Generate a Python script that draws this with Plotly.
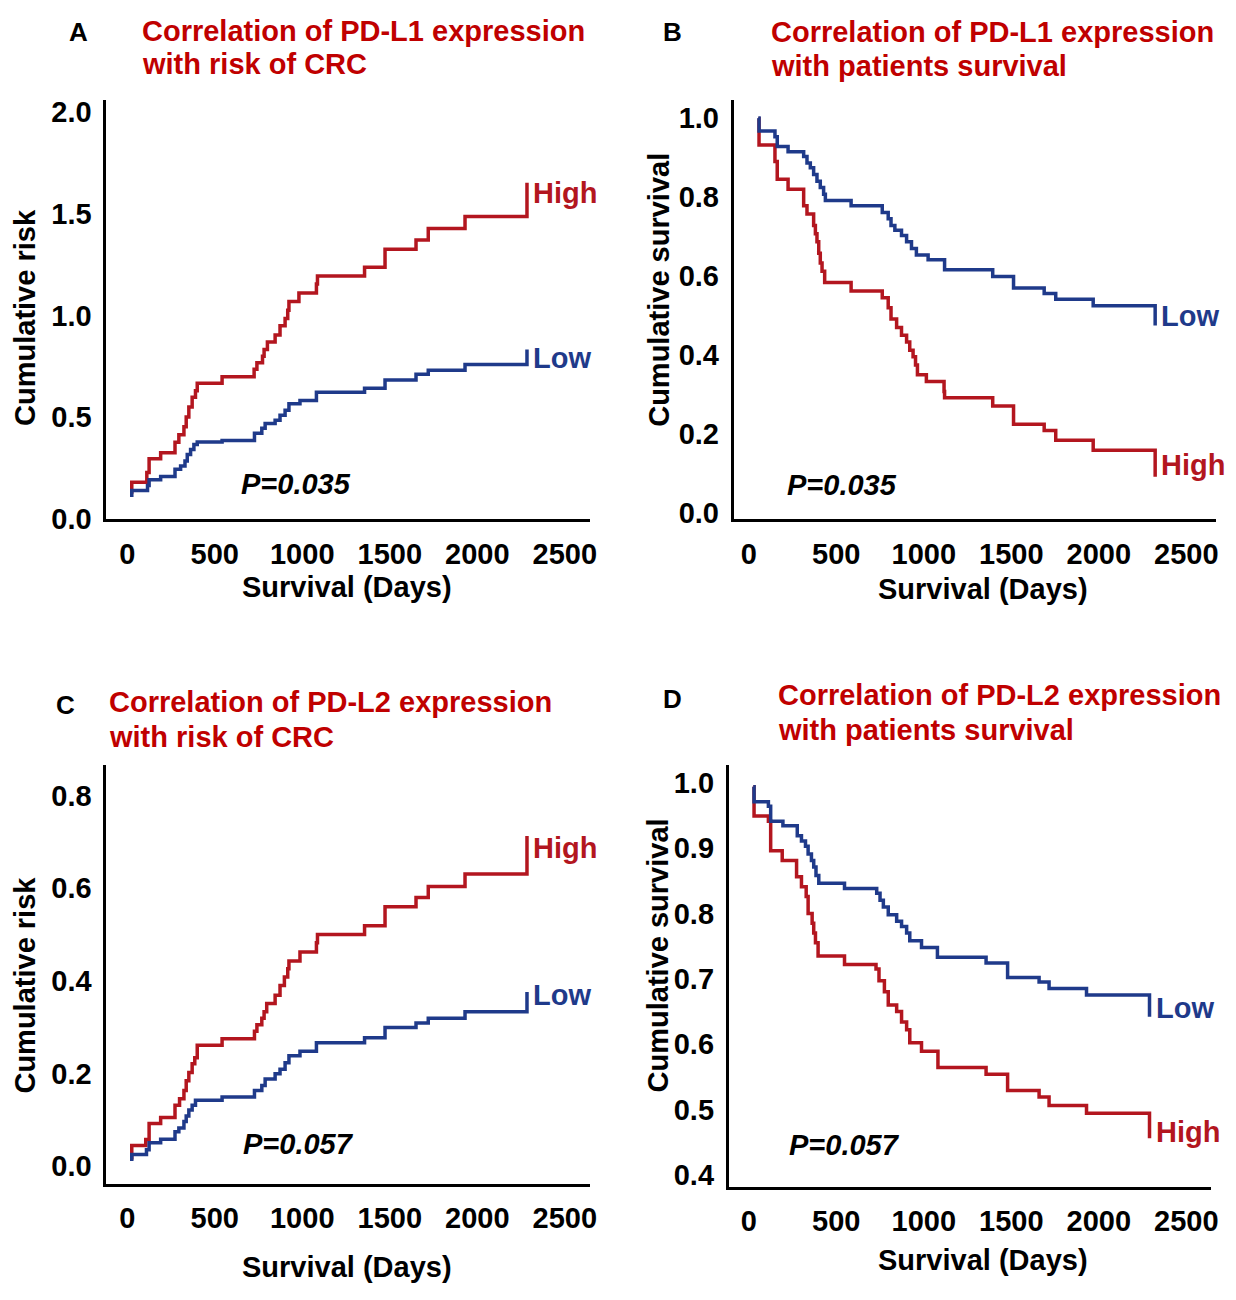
import plotly.graph_objects as go

W, H = 1236, 1300

# ---------------- data ----------------
tick_labels_x = [0, 500, 1000, 1500, 2000, 2500]

# Panel A: PD-L1, cumulative risk
A_high_days = [26, 26, 112, 125, 191, 273, 295, 324, 337, 352, 371, 390, 400, 542, 725, 741, 773, 782, 801, 845,
               873, 902, 917, 924, 981, 1081, 1087, 1356, 1473, 1650, 1720, 1930, 2284]
A_high_vals = [0.124, 0.180, 0.229, 0.296, 0.325, 0.377, 0.414, 0.454, 0.502, 0.551, 0.599, 0.631, 0.667, 0.699,
               0.736, 0.768, 0.800, 0.833, 0.870, 0.905, 0.950, 0.986, 1.026, 1.069, 1.111, 1.155, 1.195, 1.238,
               1.327, 1.372, 1.428, 1.488, 1.488]
A_high_censor = 1.654
A_low_days = [26, 26, 116, 125, 191, 273, 305, 330, 343, 362, 381, 400, 542, 727, 769, 788, 845, 873, 902, 924,
              987, 1081, 1356, 1473, 1650, 1720, 1930, 2284]
A_low_vals = [0.108, 0.140, 0.164, 0.193, 0.209, 0.245, 0.261, 0.285, 0.317, 0.341, 0.366, 0.378, 0.386, 0.422,
              0.446, 0.470, 0.486, 0.510, 0.535, 0.567, 0.583, 0.623, 0.643, 0.683, 0.712, 0.731, 0.760, 0.760]
A_low_censor = 0.833

# Panel B: PD-L1, cumulative survival
B_high_days = [55, 59, 150, 163, 225, 314, 333, 371, 381, 390, 400, 409, 419, 434, 585, 763, 797, 813, 845, 873,
               902, 920, 939, 953, 964, 1015, 1116, 1119, 1394, 1513, 1688, 1754, 1968, 2322]
B_high_vals = [0.998, 0.932, 0.890, 0.845, 0.820, 0.778, 0.757, 0.728, 0.707, 0.687, 0.658, 0.633, 0.612, 0.584,
               0.562, 0.545, 0.520, 0.491, 0.470, 0.450, 0.433, 0.412, 0.396, 0.375, 0.350, 0.333, 0.308, 0.292,
               0.271, 0.225, 0.209, 0.184, 0.159, 0.159]
B_high_censor = 0.092
B_low_days = [55, 59, 150, 163, 225, 314, 333, 352, 371, 390, 409, 428, 438, 585, 763, 797, 813, 835, 873, 902,
              930, 958, 1025, 1119, 1394, 1513, 1688, 1754, 1968, 2322]
B_low_vals = [1.000, 0.967, 0.953, 0.928, 0.915, 0.903, 0.886, 0.874, 0.857, 0.840, 0.824, 0.807, 0.791, 0.778,
              0.761, 0.745, 0.728, 0.716, 0.703, 0.687, 0.670, 0.653, 0.641, 0.616, 0.599, 0.570, 0.556, 0.541,
              0.525, 0.525]
B_low_censor = 0.475

# Panel C: PD-L2, cumulative risk
C_high_days = [26, 26, 106, 125, 191, 273, 299, 324, 337, 352, 371, 386, 400, 542, 727, 741, 769, 782, 797, 845,
               873, 898, 917, 924, 987, 1081, 1087, 1356, 1473, 1650, 1720, 1930, 2284]
C_high_vals = [0.014, 0.044, 0.057, 0.092, 0.105, 0.131, 0.145, 0.163, 0.184, 0.202, 0.221, 0.234, 0.261, 0.275,
               0.291, 0.305, 0.319, 0.333, 0.351, 0.369, 0.390, 0.408, 0.426, 0.443, 0.462, 0.482, 0.500, 0.519,
               0.560, 0.580, 0.604, 0.631, 0.631]
C_high_censor = 0.713
C_low_days = [26, 26, 110, 125, 191, 273, 295, 324, 337, 352, 371, 390, 542, 727, 769, 788, 845, 873, 902, 924,
              987, 1081, 1356, 1473, 1650, 1720, 1930, 2284]
C_low_vals = [0.011, 0.025, 0.035, 0.050, 0.058, 0.074, 0.082, 0.096, 0.108, 0.121, 0.131, 0.142, 0.149, 0.163,
              0.174, 0.188, 0.199, 0.209, 0.223, 0.238, 0.248, 0.266, 0.277, 0.299, 0.309, 0.319, 0.333, 0.333]
C_low_censor = 0.376

# Panel D: PD-L2, cumulative survival
D_high_days = [26, 30, 112, 125, 191, 273, 301, 328, 339, 362, 371, 381, 396, 547, 727, 744, 775, 797, 845, 873,
               902, 920, 987, 1081, 1356, 1479, 1659, 1716, 1930, 2290]
D_high_vals = [0.994, 0.949, 0.941, 0.896, 0.881, 0.856, 0.841, 0.826, 0.800, 0.785, 0.770, 0.755, 0.735, 0.722,
               0.715, 0.697, 0.680, 0.660, 0.650, 0.634, 0.622, 0.602, 0.589, 0.564, 0.554, 0.529, 0.519, 0.506,
               0.494, 0.494]
D_high_censor = 0.456
D_low_days = [26, 30, 112, 125, 195, 277, 301, 324, 339, 358, 371, 384, 400, 547, 731, 750, 769, 797, 845, 873,
              902, 920, 987, 1078, 1356, 1479, 1659, 1716, 1930, 2290]
D_low_vals = [0.994, 0.971, 0.964, 0.941, 0.934, 0.919, 0.911, 0.903, 0.891, 0.881, 0.871, 0.858, 0.846, 0.838,
              0.831, 0.820, 0.810, 0.798, 0.788, 0.780, 0.770, 0.758, 0.748, 0.733, 0.724, 0.702, 0.695, 0.685,
              0.675, 0.675]
D_low_censor = 0.642

p_values = ["P=0.035", "P=0.035", "P=0.057", "P=0.057"]
panel_letters = ["A", "B", "C", "D"]
panel_titles = [
    ["Correlation of PD-L1 expression", "with risk of CRC"],
    ["Correlation of PD-L1 expression", "with patients survival"],
    ["Correlation of PD-L2 expression", "with risk of CRC"],
    ["Correlation of PD-L2 expression", "with patients survival"],
]
y_titles = ["Cumulative risk", "Cumulative survival", "Cumulative risk", "Cumulative survival"]
x_title = "Survival (Days)"

# ---------------- styling ----------------
RED = "#B3161F"
BLUE = "#1F3A8A"
TITLE_RED = "#C00000"
FONT = "Liberation Sans, Arial, sans-serif"
FS = 29


def px2x(p):
    return p / W


def px2y(p):
    return 1 - p / H


# panel geometry in window pixels: (left, right, top, bottom)
boxes = [(107, 593, 98, 523), (738, 1223, 97, 523), (107, 593, 773, 1198), (733, 1218, 773, 1201)]
x_ranges = [[-119, 2642], [-85, 2670], [-119, 2642], [-114, 2642]]
y_ranges = [[0.0, 2.058], [-0.015, 1.047], [-0.038, 0.866], [0.382, 1.027]]
y_ticks = [[0.0, 0.5, 1.0, 1.5, 2.0], [0.0, 0.2, 0.4, 0.6, 0.8, 1.0], [0.0, 0.2, 0.4, 0.6, 0.8],
           [0.4, 0.5, 0.6, 0.7, 0.8, 0.9, 1.0]]

series = [
    (A_high_days, A_high_vals, A_high_censor, A_low_days, A_low_vals, A_low_censor),
    (B_high_days, B_high_vals, B_high_censor, B_low_days, B_low_vals, B_low_censor),
    (C_high_days, C_high_vals, C_high_censor, C_low_days, C_low_vals, C_low_censor),
    (D_high_days, D_high_vals, D_high_censor, D_low_days, D_low_vals, D_low_censor),
]

# label positions (data coords) for High / Low and p-values
high_label_y = [1.604, 0.122, 0.687, 0.465]
low_label_y = [0.792, 0.499, 0.370, 0.656]
p_pos = [(966, 0.174), (534, 0.072), (977, 0.047), (545, 0.446)]

# letter / title / axis-title pixel positions (window coords)
letter_pos = [(79, 28), (676, 28), (66, 712), (676, 706)]
title_pos = [(141, 27, 61), (773, 28, 63), (108, 709, 744), (780, 702, 737)]
ytitle_pos = [(25, 318), (662, 290), (25, 996), (662, 966)]
xtitle_pos = [(349, 592), (989, 594), (349, 1283), (989, 1276)]

fig = go.Figure()
layout = {}
annotations = []

for i in range(4):
    n = "" if i == 0 else str(i + 1)
    xa, ya = "x" + n, "y" + n
    hd, hv, hc, ld, lv, lc = series[i]
    fig.add_trace(go.Scatter(x=hd + [hd[-1]], y=hv + [hc], mode="lines", line=dict(color=RED, width=3.5, shape="hv"),
                             xaxis=xa, yaxis=ya, name="High", showlegend=False))
    fig.add_trace(go.Scatter(x=ld + [ld[-1]], y=lv + [lc], mode="lines", line=dict(color=BLUE, width=3.5, shape="hv"),
                             xaxis=xa, yaxis=ya, name="Low", showlegend=False))
    l, r, t, b = boxes[i]
    layout["xaxis" + n] = dict(domain=[px2x(l), px2x(r)], range=x_ranges[i], anchor=ya, showline=True,
                               linecolor="black", linewidth=3, ticks="", showgrid=False, zeroline=False,
                               tickvals=tick_labels_x, ticktext=[str(v) for v in tick_labels_x],
                               tickfont=dict(family=FONT, size=FS, color="black", weight="bold"),
                               ticklabelstandoff=7, fixedrange=True)
    layout["yaxis" + n] = dict(domain=[px2y(b), px2y(t)], range=y_ranges[i], anchor=xa, showline=True,
                               linecolor="black", linewidth=3, ticks="", showgrid=False, zeroline=False,
                               tickvals=y_ticks[i], ticktext=["%.1f" % v for v in y_ticks[i]],
                               tickfont=dict(family=FONT, size=FS, color="black", weight="bold"),
                               ticklabelstandoff=6, fixedrange=True)
    # High / Low labels
    annotations.append(dict(x=hd[-1], y=high_label_y[i], xref=xa, yref=ya, text="High", showarrow=False,
                            xanchor="left", yanchor="middle", xshift=4,
                            font=dict(family=FONT, size=FS, color=RED, weight="bold")))
    annotations.append(dict(x=ld[-1], y=low_label_y[i], xref=xa, yref=ya, text="Low", showarrow=False,
                            xanchor="left", yanchor="middle", xshift=4,
                            font=dict(family=FONT, size=FS, color=BLUE, weight="bold")))
    annotations.append(dict(x=p_pos[i][0], y=p_pos[i][1], xref=xa, yref=ya, text="<i>%s</i>" % p_values[i],
                            showarrow=False, xanchor="center", yanchor="middle",
                            font=dict(family=FONT, size=FS, color="black", weight="bold")))
    # letters
    annotations.append(dict(x=px2x(letter_pos[i][0]), y=px2y(letter_pos[i][1]), xref="paper", yref="paper",
                            text=panel_letters[i], showarrow=False, xanchor="center", yanchor="middle",
                            font=dict(family=FONT, size=26, color="black", weight="bold")))
    # titles
    tx, ty1, ty2 = title_pos[i]
    for line, ty in zip(panel_titles[i], (ty1, ty2)):
        annotations.append(dict(x=px2x(tx), y=px2y(ty), xref="paper", yref="paper", text=line,
                                showarrow=False, xanchor="left", yanchor="middle",
                                font=dict(family=FONT, size=FS, color=TITLE_RED, weight="bold")))
    # axis titles
    annotations.append(dict(x=px2x(ytitle_pos[i][0]), y=px2y(ytitle_pos[i][1]), xref="paper", yref="paper",
                            text=y_titles[i], textangle=-90, showarrow=False, xanchor="center",
                            yanchor="middle", font=dict(family=FONT, size=FS, color="black", weight="bold")))
    annotations.append(dict(x=px2x(xtitle_pos[i][0]), y=px2y(xtitle_pos[i][1]), xref="paper", yref="paper",
                            text=x_title, showarrow=False, xanchor="center", yanchor="middle",
                            font=dict(family=FONT, size=FS, color="black", weight="bold")))

fig.update_layout(**layout)
fig.update_layout(width=W, height=H, margin=dict(l=0, r=0, t=0, b=0), plot_bgcolor="white",
                  paper_bgcolor="white", annotations=annotations, showlegend=False)

# remove the default page margin so the figure fills the window exactly
fig.write_html("out.html", config={"displayModeBar": False},
               post_script="document.documentElement.style.margin='0';document.body.style.margin='0';"
                           "document.body.style.overflow='hidden';")
